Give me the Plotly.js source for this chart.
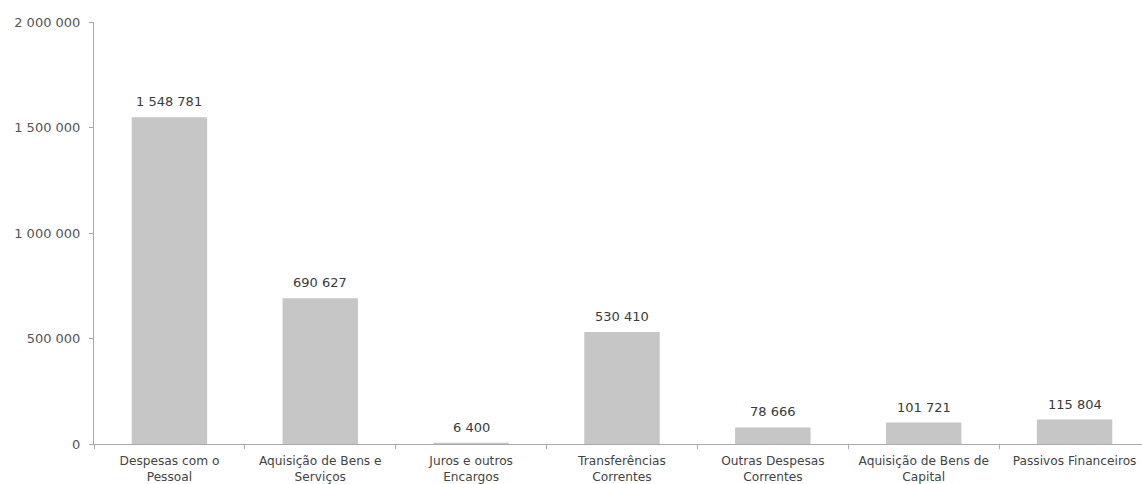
<!DOCTYPE html>
<html>
<head>
<meta charset="utf-8">
<script src="https://cdn.plot.ly/plotly-3.0.1.min.js"></script>
<style>html,body{margin:0;padding:0;background:#fff;}#chart{width:1142px;height:484px;}</style>
</head>
<body>
<div id="chart"></div>
<script>
const categories = [
  "Despesas com o<br>Pessoal",
  "Aquisição de Bens e<br>Serviços",
  "Juros e outros<br>Encargos",
  "Transferências<br>Correntes",
  "Outras Despesas<br>Correntes",
  "Aquisição de Bens de<br>Capital",
  "Passivos Financeiros"
];
const values = [1548781, 690627, 6400, 530410, 78666, 101721, 115804];
const yTicks = [0, 500000, 1000000, 1500000, 2000000];
const yTickLabels = ["0", "500 000", "1 000 000", "1 500 000", "2 000 000"];

const fmt = v => v.toLocaleString('en-US').replace(/,/g, ' ');
const FONT = 'DejaVu Sans, Verdana, sans-serif';

const trace = {
  type: 'bar',
  x: categories,
  y: values,
  width: 0.5,
  marker: {color: '#c6c6c6', line: {width: 0}},
  hoverinfo: 'none'
};

const annotations = categories.map((c, i) => ({
  x: c,
  y: values[i],
  xref: 'x',
  yref: 'y',
  text: fmt(values[i]),
  showarrow: false,
  yanchor: 'bottom',
  yshift: 6,
  font: {family: FONT, size: 13, color: '#3a3a3a'}
}));

const layout = {
  width: 1142,
  height: 484,
  margin: {l: 94, r: 0, t: 22, b: 40},
  paper_bgcolor: '#fff',
  plot_bgcolor: '#fff',
  showlegend: false,
  font: {family: FONT, size: 13, color: '#555'},
  annotations: annotations,
  xaxis: {
    type: 'category',
    range: [-0.5, 6.447],
    showline: true,
    linecolor: '#aaaaaa',
    linewidth: 1,
    ticks: 'outside',
    tickson: 'boundaries',
    ticklen: 4,
    tickcolor: '#aaaaaa',
    ticklabelstandoff: 5,
    showgrid: false,
    zeroline: false,
    tickfont: {family: FONT, size: 12.2, color: '#444'}
  },
  yaxis: {
    range: [0, 2000000],
    tickvals: yTicks,
    ticktext: yTickLabels,
    showline: true,
    linecolor: '#aaaaaa',
    linewidth: 1,
    ticks: 'outside',
    ticklen: 4,
    tickcolor: '#aaaaaa',
    ticklabelstandoff: 6,
    showgrid: false,
    zeroline: false,
    tickfont: {family: FONT, size: 13, color: '#555'}
  }
};

Plotly.newPlot('chart', [trace], layout, {displayModeBar: false, staticPlot: true});
</script>
</body>
</html>
